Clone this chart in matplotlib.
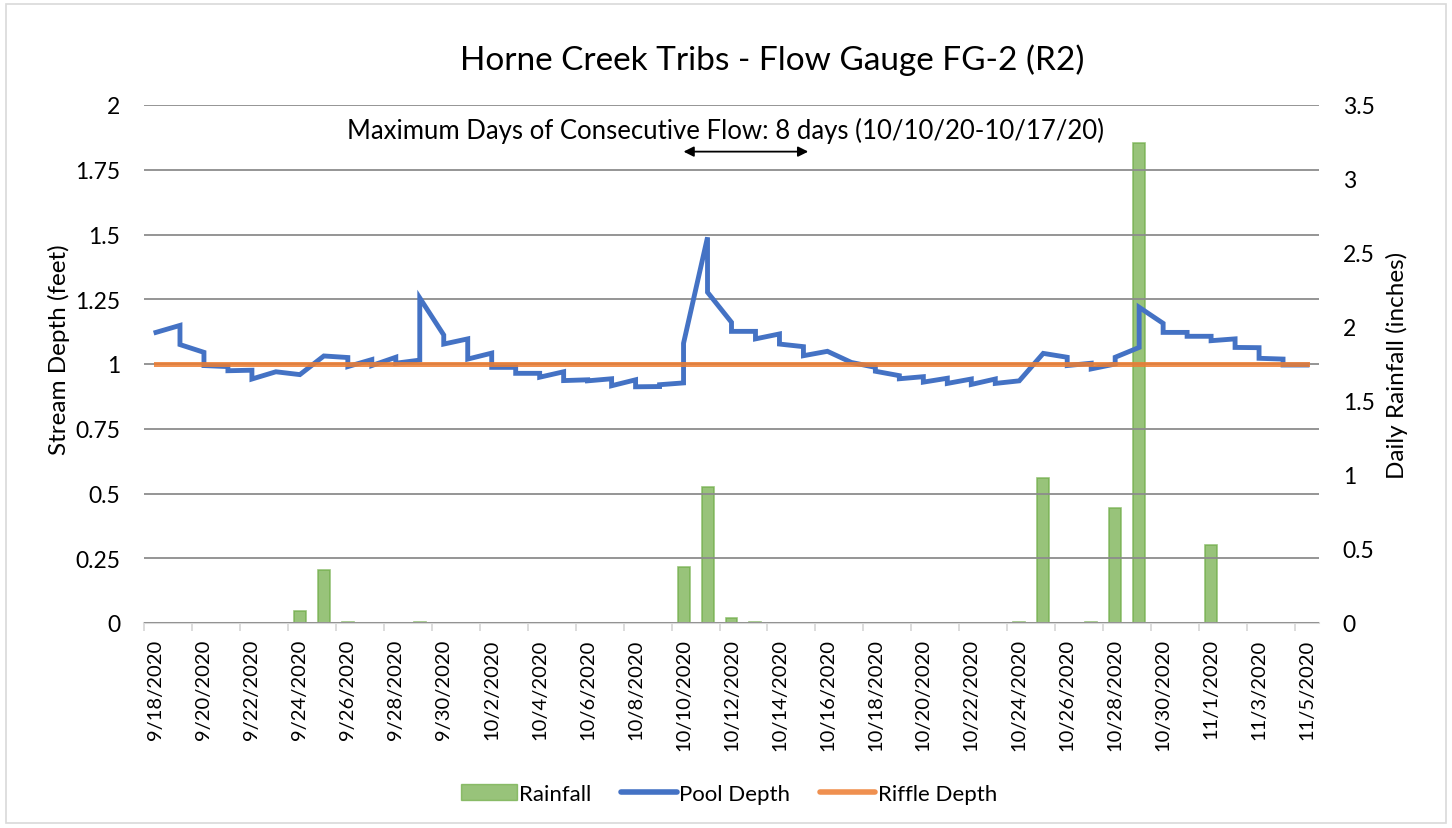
import datetime as dt
import matplotlib
matplotlib.use('Agg')
import matplotlib.pyplot as plt
from matplotlib.patches import Patch, Rectangle
from matplotlib.lines import Line2D

plt.rcParams['font.family'] = ['Lato', 'DejaVu Sans']

start = dt.date(2020, 9, 18)
n_days = 49
dates = [start + dt.timedelta(days=i) for i in range(n_days)]
date_labels = [f"{d.month}/{d.day}/{d.year}" for d in dates]

# daily rainfall (inches), by day index
rain = [0.0] * n_days
rain_days = [6, 7, 8, 11, 22, 23, 24, 25, 36, 37, 39, 40, 41, 44]
rain_vals = [0.08, 0.36, 0.01, 0.01, 0.38, 0.92, 0.035, 0.01, 0.01, 0.98, 0.01, 0.78, 3.24, 0.53]
for d, v in zip(rain_days, rain_vals):
    rain[d] = v

# pool depth: first and second reading of each day (feet)
pool_in = [1.122, 1.149, 1.045, 0.990, 0.976, 0.970, 0.959, 1.031, 1.025, 1.017,
           1.026, 1.015, 1.112, 1.097, 1.042, 0.987, 0.964, 0.970, 0.939, 0.943,
           0.939, 0.913, 0.927, 1.489, 1.161, 1.126, 1.116, 1.067, 1.049, 1.006,
           0.987, 0.955, 0.951, 0.945, 0.942, 0.942, 0.935, 1.041, 1.026, 1.003,
           1.000, 1.064, 1.157, 1.122, 1.107, 1.097, 1.063, 1.019, 0.996]
pool_out = [1.122, 1.075, 0.994, 0.974, 0.942, 0.970, 0.959, 1.031, 0.990, 0.994,
            1.003, 1.255, 1.077, 1.019, 0.987, 0.964, 0.949, 0.936, 0.935, 0.916,
            0.912, 0.920, 1.080, 1.277, 1.126, 1.097, 1.077, 1.032, 1.049, 1.006,
            0.972, 0.943, 0.930, 0.925, 0.921, 0.925, 0.935, 1.041, 0.994, 0.981,
            1.026, 1.219, 1.122, 1.107, 1.090, 1.064, 1.022, 0.996, 0.996]
riffle = [1.0] * n_days

flow_start, flow_end = 22, 27   # arrow span (category positions)

days = list(range(n_days))
pool_x, pool_y = [], []
for d in days:
    pool_x += [d, d]
    pool_y += [pool_in[d], pool_out[d]]

fig = plt.figure(figsize=(14.52, 8.29), dpi=100)
ax = fig.add_axes([144/1452, 1 - 624/829, 1175/1452, 518/829])
ax2 = ax.twinx()

ax2.bar(days, rain, width=0.5, color='#70ad47', alpha=0.72,
        edgecolor='#70ad47', linewidth=1.2)
ax2.set_ylim(0, 3.5)
ax2.set_yticks([0, 0.5, 1, 1.5, 2, 2.5, 3, 3.5])
ax2.set_yticklabels(['0', '0.5', '1', '1.5', '2', '2.5', '3', '3.5'])

ax.set_zorder(ax2.get_zorder() + 1)
ax.patch.set_visible(False)

ax.plot(pool_x, pool_y, color='#4472c4', lw=3.5, solid_joinstyle='miter', zorder=3)
ax.plot(days, riffle, color='#ed7d31', lw=3.6, alpha=0.85, zorder=4)

ax.set_xlim(-0.5, n_days - 0.5)
ax.set_ylim(0, 2)
yt = [0, 0.25, 0.5, 0.75, 1, 1.25, 1.5, 1.75, 2]
ax.set_yticks(yt)
ax.set_yticklabels(['0', '0.25', '0.5', '0.75', '1', '1.25', '1.5', '1.75', '2'])
ax.grid(axis='y', color='#8c8c8c', lw=1.3)
ax.set_axisbelow(False)

ax.set_xticks(days[::2])
ax.set_xticklabels(date_labels[::2], rotation=90, fontsize=14.5)
ax.set_xticks([d - 0.5 for d in days[::2]], minor=True)
ax.tick_params(axis='x', which='major', length=0, pad=11)
ax.tick_params(axis='x', which='minor', length=6, width=1.3, color='#d9d9d9')
ax.tick_params(axis='y', length=0, pad=17, labelsize=16.5)
ax2.tick_params(axis='y', length=0, pad=17, labelsize=16.5)

for a in (ax, ax2):
    for s in ('left', 'right', 'top'):
        a.spines[s].set_visible(False)
    a.spines['bottom'].set_color('#d9d9d9')
    a.spines['bottom'].set_linewidth(1.5)
ax2.spines['bottom'].set_visible(False)

ax.set_ylabel('Stream Depth (feet)', fontsize=17.5)
ax.yaxis.set_label_coords(-0.063, 0.53)
ax2.set_ylabel('Daily Rainfall (inches)', fontsize=17.5)
ax2.yaxis.set_label_coords(1.057, 0.5)

fig.text(0.532, 1 - 60/829, 'Horne Creek Tribs - Flow Gauge FG-2 (R2)',
         ha='center', va='center', fontsize=24)

ax.text(0.495, 1.905, 'Maximum Days of Consecutive Flow: 8 days (10/10/20-10/17/20)',
        transform=ax.get_yaxis_transform(), ha='center', va='center', fontsize=18.5)
ax.annotate('', xy=(flow_start, 1.82), xytext=(flow_end + 0.2, 1.82),
            arrowprops=dict(arrowstyle='<|-|>', color='black', lw=1.3,
                            mutation_scale=15, shrinkA=0, shrinkB=0))

handles = [Patch(facecolor='#70ad47', alpha=0.72, edgecolor='#70ad47'),
           Line2D([], [], color='#4472c4', lw=4, solid_capstyle='round'),
           Line2D([], [], color='#ed7d31', lw=4, alpha=0.85, solid_capstyle='round')]
fig.legend(handles, ['Rainfall', 'Pool Depth', 'Riffle Depth'], loc='center',
           bbox_to_anchor=(0.502, 1 - 795/829), ncol=3, frameon=False, fontsize=16,
           handlelength=2.5, handletextpad=0.1, columnspacing=1.35)

fig.add_artist(Rectangle((0.004, 0.006), 0.992, 0.988, transform=fig.transFigure,
                         fill=False, edgecolor='#d9d9d9', lw=1.2))

fig.savefig('out.png', dpi=100)
